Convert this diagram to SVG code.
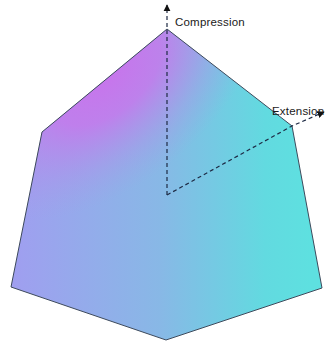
<svg xmlns="http://www.w3.org/2000/svg" width="325" height="345" viewBox="0 0 325 345">
<style>
.axis{stroke:#1e2a44;stroke-width:1.2;stroke-dasharray:4,3;fill:none}
.lbl{font-family:"Liberation Sans",Arial,sans-serif;font-size:11.5px;fill:#1a1a1a;letter-spacing:0.2px}
</style>
<defs>
<linearGradient id="base" gradientUnits="userSpaceOnUse" x1="10" y1="0" x2="310" y2="0">
<stop offset="0" stop-color="#a09ef0"/>
<stop offset="0.5" stop-color="#88b8e6"/>
<stop offset="0.85" stop-color="#62dae0"/>
<stop offset="1" stop-color="#5ee0e0"/>
</linearGradient>
<radialGradient id="mag" gradientUnits="userSpaceOnUse" cx="0" cy="0" r="1" gradientTransform="translate(105,75) rotate(-39.5) scale(185,110)">
<stop offset="0" stop-color="#c874ec" stop-opacity="1"/>
<stop offset="0.35" stop-color="#c678ec" stop-opacity="0.85"/>
<stop offset="0.7" stop-color="#b888ea" stop-opacity="0.35"/>
<stop offset="1" stop-color="#a898e8" stop-opacity="0"/>
</radialGradient>
<marker id="ah" viewBox="0 0 10 10" refX="9" refY="5" markerWidth="6" markerHeight="6" orient="auto">
<path d="M0,0 L10,5 L0,10 z" fill="#111"/>
</marker>
</defs>
<rect width="325" height="345" fill="#fff"/>
<g id="solid">
<polygon points="167,29 292,126 322,288 166,340 11,287 42,132" fill="url(#base)"/>
<polygon points="167,29 292,126 322,288 166,340 11,287 42,132" fill="url(#mag)" stroke="#3d4a5c" stroke-width="1"/>
</g>
<g id="connectors">
<path class="axis" d="M167,195 L167,5" marker-end="url(#ah)"/>
<path class="axis" d="M167,195 L292,126 L324,112" marker-end="url(#ah)"/>
</g>
<g id="labels">
<text class="lbl" x="175" y="26">Compression</text>
<text class="lbl" x="272" y="115">Extension</text>
</g>
</svg>
